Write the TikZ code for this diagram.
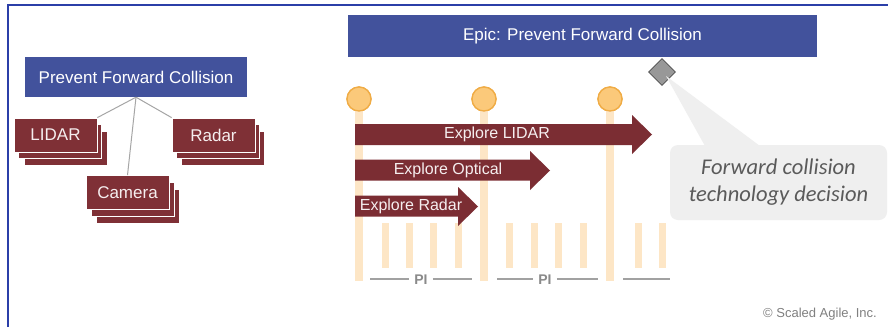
\documentclass[tikz,border=0pt]{standalone}
\usepackage{fontspec}
\setmainfont{Liberation Sans}
\newfontfamily\calloutfont{Carlito}
\usetikzlibrary{shapes.geometric}
\definecolor{epicblue}{HTML}{42529C}
\definecolor{framblue}{HTML}{2B3FA8}
\definecolor{cardred}{HTML}{7F3036}
\definecolor{arrred}{HTML}{7B2D33}
\definecolor{peach}{HTML}{FDE6C6}
\definecolor{circfill}{HTML}{FBC97A}
\definecolor{circdraw}{HTML}{F0AC45}
\definecolor{callgray}{HTML}{EFEFEF}
\definecolor{textgray}{HTML}{5A5A5A}
\definecolor{pigray}{HTML}{8A8A8A}
\tikzset{
  bluebox/.style={fill=epicblue, text=white, inner sep=0pt, font=\fontsize{17}{19}\selectfont},
  card/.style={fill=cardred, draw=white, line width=0.8pt, minimum width=83pt, minimum height=34pt, inner sep=0pt, text=white!92!cardred, font=\fontsize{17}{19}\selectfont},
  backcard/.style={fill=cardred, draw=white, line width=0.8pt, minimum width=83pt, minimum height=34pt, inner sep=0pt},
  treeline/.style={draw=gray!70, line width=1pt},
  arr/.style={fill=arrred},
  arrtext/.style={text=white!92!arrred, font=\fontsize{16}{18}\selectfont, inner sep=0pt},
  tall/.style={draw=peach, line width=8pt},
  short/.style={draw=peach, line width=7pt},
  milestone/.style={circle, fill=circfill, draw=circdraw, line width=1.3pt, minimum size=24pt, inner sep=0pt},
  piline/.style={draw=pigray!80, line width=1.2pt},
  pitext/.style={text=pigray, font=\fontsize{14}{15}\selectfont\bfseries, inner sep=0pt}
}
\begin{document}
\begin{tikzpicture}[x=1pt, y=-1pt]
\useasboundingbox (0,0) rectangle (888,327);
\fill[white] (0,0) rectangle (888,327);
% frame
\draw[framblue, line width=1.5pt] (8,327) -- (8,5) -- (888,5);

% ---- left tree ----
\node[bluebox, minimum width=222pt, minimum height=40pt] (pfc) at (136,77) {Prevent Forward Collision};

\node[backcard] (lidar3) at (66,148) {};
\node[backcard] (lidar2) at (60,141) {};
\node[card] (lidar) at (55.5,135) {LIDAR};

\node[backcard] (radar3) at (223,148) {};
\node[backcard] (radar2) at (218,141) {};
\node[card] (radar) at (213.5,135) {Radar};

\node[backcard] (camera3) at (138,206) {};
\node[backcard] (camera2) at (133,199) {};
\node[card] (camera) at (127.5,192.5) {Camera};

\draw[treeline] (pfc.south) -- (lidar.north east);
\draw[treeline] (pfc.south) -- (camera.north);
\draw[treeline] (pfc.south) -- (radar.north west);

% ---- right timeline ----
\node[bluebox, minimum width=469pt, minimum height=42pt] (epic) at (582.5,36) {Epic: Prevent Forward Collision};

% short bars
\foreach \x in {385,409,433,458,509,534,558,583,638,662}
  \draw[short] (\x,223) -- (\x,268);

% milestones and tall lines
\node[milestone] (m1) at (359,99) {};
\node[milestone] (m2) at (484,99) {};
\node[milestone] (m3) at (610,99) {};
\coordinate (b1) at (359,281);
\coordinate (b2) at (484,281);
\coordinate (b3) at (610,281);
\draw[tall] (m1.center) -- (b1);
\draw[tall] (m2.center) -- (b2);
\draw[tall] (m3.center) -- (b3);
\node[milestone] at (m1) {};
\node[milestone] at (m2) {};
\node[milestone] at (m3) {};

% arrows
\fill[arr] (355,124) -- (632,124) -- (632,115) -- (652,134.5) -- (632,154) -- (632,145) -- (355,145) -- cycle;
\node[arrtext] (a1) at (497,134.5) {Explore LIDAR};
\fill[arr] (355,159.5) -- (530,159.5) -- (530,151) -- (550,170.5) -- (530,190) -- (530,180.5) -- (355,180.5) -- cycle;
\node[arrtext] (a2) at (448,170) {Explore Optical};
\fill[arr] (355,195.5) -- (458,195.5) -- (458,187) -- (478,206.5) -- (458,226) -- (458,216.5) -- (355,216.5) -- cycle;
\node[arrtext] (a3) at (411,206) {Explore Radar};

% PI labels
\node[pitext] (pi1) at (421,280) {PI};
\node[pitext] (pi2) at (545,280) {PI};
\coordinate (p1a) at (370,279); \coordinate (p1b) at (472,279);
\coordinate (p2a) at (497,279); \coordinate (p2b) at (598,279);
\coordinate (p3a) at (623,279); \coordinate (p3b) at (670,279);
\draw[piline] (p1a) -- ([xshift=-5pt]pi1.west |- p1a);
\draw[piline] ([xshift=5pt]pi1.east |- p1a) -- (p1b);
\draw[piline] (p2a) -- ([xshift=-5pt]pi2.west |- p2a);
\draw[piline] ([xshift=5pt]pi2.east |- p2a) -- (p2b);
\draw[piline] (p3a) -- (p3b);

% decision diamond and callout
\node[diamond, fill=gray!85!black!70, draw=gray!60!black, line width=0.6pt, minimum width=27pt, minimum height=27pt, inner sep=0pt] (dec) at (662,72) {};
\node[fill=callgray, rounded corners=8pt, minimum width=217pt, minimum height=75pt, inner sep=0pt] (call) at (778.5,182.5) {};
\fill[callgray] (666,76) -- (705,146) -- (760,146) -- cycle;
\node[text=textgray, align=center, font=\calloutfont\itshape\fontsize{22.5}{27}\selectfont, inner sep=0pt] (calltext) at (call) {Forward collision\\technology decision};

% copyright
\node[text=gray, font=\fontsize{13}{14}\selectfont, inner sep=0pt] (copy) at (820,314) {\textcopyright\ Scaled Agile, Inc.};
\end{tikzpicture}
\end{document}
